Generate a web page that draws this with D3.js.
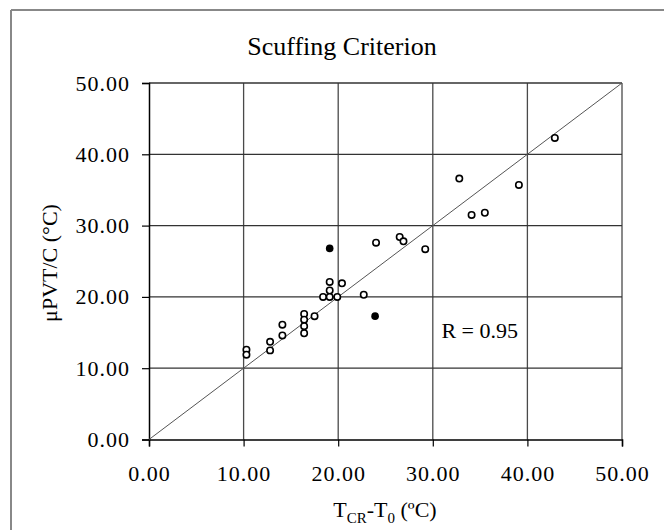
<!DOCTYPE html>
<meta charset="utf-8">
<script src="https://d3js.org/d3.v7.min.js"></script>
<style>
  body { margin: 0; background: #fff; }
  text { font-family: "Liberation Serif", "Times New Roman", serif; fill: #000; }
</style>
<svg id="chart" width="664" height="530"></svg>
<script>

// open circles
var openX = [19.1, 20.4, 19.1, 18.4, 19.1, 19.9, 22.7, 17.5, 16.4, 16.4, 16.4, 16.4, 14.1, 14.1, 12.8, 12.8, 10.3, 10.3,
             32.8, 39.1, 34.1, 35.5, 24.0, 26.5, 26.9, 29.2, 42.9];
var openY = [22.1, 21.9, 20.9, 20.0, 20.0, 20.0, 20.3, 17.3, 17.6, 16.8, 15.9, 14.9, 16.1, 14.6, 13.7, 12.5, 12.6, 11.9,
             36.6, 35.7, 31.5, 31.8, 27.6, 28.4, 27.8, 26.7, 42.3];
// filled circles
var fillX = [19.1, 23.9];
var fillY = [26.8, 17.3];

var ticks = [0, 10, 20, 30, 40, 50];

var svg = d3.select("#chart");

// outer frame (only top and left edges visible)
svg.append("line").attr("x1", 11).attr("x2", 664).attr("y1", 10).attr("y2", 10)
  .style("stroke", "#888").style("stroke-width", 2);
svg.append("line").attr("x1", 11).attr("x2", 11).attr("y1", 10).attr("y2", 530)
  .style("stroke", "#888").style("stroke-width", 2);

var x = d3.scaleLinear().domain([0, 50]).range([149, 622]);
var y = d3.scaleLinear().domain([0, 50]).range([439.5, 83]);

// grid
svg.append("g").selectAll("line").data(ticks.slice(1)).enter().append("line")
  .attr("x1", d => x(d)).attr("x2", d => x(d))
  .attr("y1", y(0)).attr("y2", y(50))
  .style("stroke", "#4a4a4a").style("stroke-width", 1.3);
svg.append("g").selectAll("line").data(ticks.slice(1)).enter().append("line")
  .attr("x1", x(0)).attr("x2", x(50))
  .attr("y1", d => y(d)).attr("y2", d => y(d))
  .style("stroke", "#333").style("stroke-width", 1.3);

// axes
var xAxis = svg.append("g").attr("transform", "translate(0," + y(0) + ")")
  .call(d3.axisBottom(x).tickValues(ticks).tickSize(7).tickPadding(19).tickFormat(d3.format(".2f")));
var yAxis = svg.append("g").attr("transform", "translate(" + x(0) + ",0)")
  .call(d3.axisLeft(y).tickValues(ticks).tickSize(7).tickPadding(12).tickFormat(d3.format(".2f")));
[xAxis, yAxis].forEach(function(a){
  a.select(".domain").style("stroke", "#000").style("stroke-width", 1.5);
  a.selectAll(".tick line").style("stroke", "#000").style("stroke-width", 1.2);
  a.selectAll("text").style("font-family", "Liberation Serif").style("font-size", "22px")
    .style("letter-spacing", "1px").attr("fill", "#000");
});
xAxis.selectAll("text").attr("dy", "0.71em");

// diagonal 1:1 line
svg.append("line")
  .attr("x1", x(0)).attr("y1", y(0)).attr("x2", x(50)).attr("y2", y(50))
  .style("stroke", "#555").style("stroke-width", 1);

// points
svg.append("g").selectAll("circle").data(openX).enter().append("circle")
  .attr("cx", d => x(d)).attr("cy", (d, i) => y(openY[i])).attr("r", 3.2)
  .style("fill", "#fff").style("stroke", "#000").style("stroke-width", 1.6);
svg.append("g").selectAll("circle").data(fillX).enter().append("circle")
  .attr("cx", d => x(d)).attr("cy", (d, i) => y(fillY[i])).attr("r", 3.8)
  .style("fill", "#000");

// title
svg.append("text").attr("x", 342).attr("y", 55).attr("text-anchor", "middle")
  .style("font-size", "26px").text("Scuffing Criterion");

// R label
svg.append("text").attr("x", 518).attr("y", 338).attr("text-anchor", "end")
  .style("font-size", "22px").text("R = 0.95");

// x label
var xl = svg.append("text").attr("x", 385).attr("y", 517).attr("text-anchor", "middle")
  .style("font-size", "22px");
xl.append("tspan").text("T");
xl.append("tspan").attr("dy", 6).style("font-size", "15px").text("CR");
xl.append("tspan").attr("dy", -6).text("-T");
xl.append("tspan").attr("dy", 6).style("font-size", "15px").text("0");
xl.append("tspan").attr("dy", -6).text(" (ºC)");

// y label
svg.append("text").attr("transform", "translate(57,263) rotate(-90)")
  .attr("text-anchor", "middle").style("font-size", "22px").text("μPVT/C (°C)");

</script>
